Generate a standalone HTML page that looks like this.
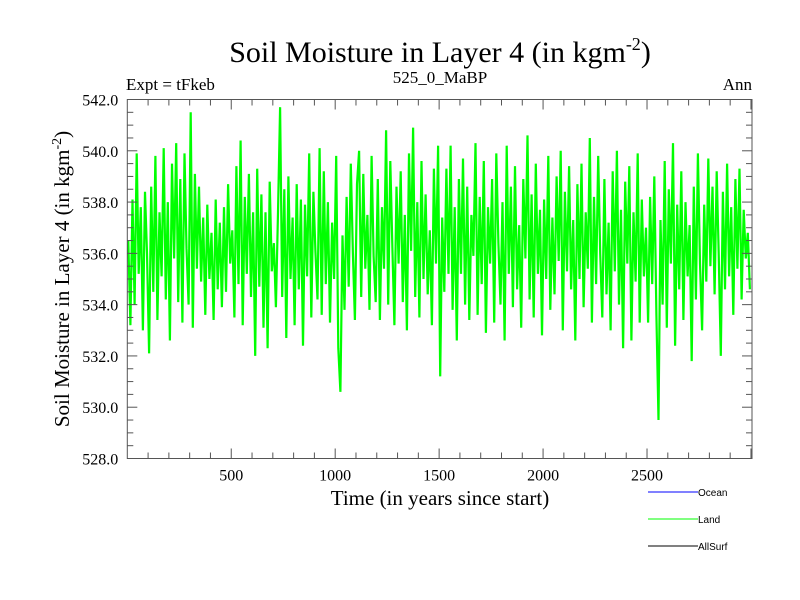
<!DOCTYPE html>
<html><head><meta charset="utf-8"><style>
body{margin:0;background:#fff;}
svg{display:block;font-family:"Liberation Serif",serif;}
</style></head><body>
<svg id="chart" width="800" height="600">
<text x="440" y="62" font-size="30" text-anchor="middle">Soil Moisture in Layer 4 (in kgm<tspan dy="-12" font-size="18">-2</tspan><tspan dy="12">)</tspan></text>
<text x="126" y="90" font-size="17">Expt = tFkeb</text>
<text x="440" y="83" font-size="17" text-anchor="middle">525_0_MaBP</text>
<text x="752" y="90" font-size="17" text-anchor="end">Ann</text>
<text transform="translate(69,279) rotate(-90)" font-size="21" text-anchor="middle">Soil Moisture in Layer 4 (in kgm<tspan dy="-8" font-size="14">-2</tspan><tspan dy="8">)</tspan></text>
<text x="440" y="505" font-size="21" text-anchor="middle">Time (in years since start)</text>
<g id="plot"></g>
<g id="axes"></g>
<g font-family="Liberation Sans, sans-serif" font-size="10">
<g><line x1="648" y1="492" x2="698" y2="492" stroke="#0000ff"/><text x="698" y="496">Ocean</text></g>
<g><line x1="648" y1="519" x2="698" y2="519" stroke="#00ff00"/><text x="698" y="523">Land</text></g>
<g><line x1="648" y1="546" x2="698" y2="546" stroke="#000"/><text x="698" y="550">AllSurf</text></g>
</g>
</svg>
<script>
const yTicks=[528,530,532,534,536,538,540,542];
const yTickLabels=["528.0","530.0","532.0","534.0","536.0","538.0","540.0","542.0"];
const xTicks=[500,1000,1500,2000,2500];
const xTickLabels=["500","1000","1500","2000","2500"];
const yearStart=5, yearStep=10;
const landValues=[
536.5,533.2,538.1,534.0,539.9,535.2,537.8,533.0,538.4,536.0,532.1,538.6,534.5,539.8,533.4,537.6,535.1,540.1,534.2,538.0,
532.6,539.5,535.8,540.3,534.1,538.9,533.3,539.9,536.2,534.0,541.5,533.1,539.1,535.4,538.6,534.9,537.4,533.6,537.9,535.0,
536.8,533.4,538.1,534.6,537.2,533.9,537.8,534.5,538.7,535.6,536.9,533.5,539.4,534.8,540.4,533.2,538.2,535.2,539.1,534.3,
537.6,532.0,539.3,534.7,538.3,533.1,537.6,532.3,538.8,535.3,536.4,533.9,537.6,541.7,534.3,538.5,532.7,539.0,535.0,537.4,
533.2,538.7,534.6,538.1,532.4,537.9,535.1,539.9,533.5,538.4,536.1,534.2,540.1,533.6,539.2,534.8,538.0,533.3,537.2,535.0,
539.8,532.3,530.6,536.7,533.8,538.2,534.7,539.5,536.0,533.4,538.7,540.0,534.3,539.1,535.4,537.5,533.8,539.8,535.9,534.1,
538.9,533.4,537.8,535.4,540.8,534.0,539.6,536.2,533.2,538.6,535.6,539.2,534.1,537.5,533.0,539.9,536.1,540.9,534.3,538.0,
533.5,539.6,535.0,538.3,534.4,536.9,533.2,539.3,535.6,540.2,531.2,537.4,534.5,539.3,535.2,540.2,533.8,537.8,532.6,538.9,
535.2,539.7,534.0,538.6,533.4,537.5,535.9,540.3,533.6,538.2,534.8,539.6,532.9,537.8,535.6,538.9,533.3,539.9,536.4,534.0,
538.0,532.6,540.2,535.2,538.6,533.9,539.4,534.6,537.1,533.1,538.9,535.8,540.6,534.2,538.3,533.5,539.5,535.2,537.7,532.8,
538.1,535.0,539.8,533.8,537.4,534.4,539.0,535.7,540.0,533.0,538.4,535.3,539.4,534.6,537.3,532.6,538.7,535.0,539.5,533.9,
537.6,535.4,540.5,533.3,538.2,534.8,539.8,536.0,533.5,538.9,534.4,537.2,533.0,539.2,535.3,540.0,534.0,537.7,532.3,538.8,
535.6,539.4,532.6,537.6,534.9,539.9,533.3,538.1,535.1,537.0,533.3,538.2,534.8,539.0,533.6,529.5,537.3,534.0,539.6,533.1,
538.5,535.6,540.3,532.4,537.9,534.6,539.2,533.4,538.0,535.1,537.1,531.8,538.6,534.2,539.9,535.6,533.0,537.9,534.9,539.7,
535.5,538.6,534.4,539.2,536.0,532.0,538.4,534.6,539.5,535.1,537.8,533.6,538.9,535.4,539.3,534.2,537.7,535.8,536.8,534.6
];
const L=127.3,R=752,T=99.5,B=458.5,xMin=0,xMax=3005,yMin=528,yMax=542;
const xs=v=>L+(v-xMin)/(xMax-xMin)*(R-L);
const ys=v=>B-(v-yMin)/(yMax-yMin)*(B-T);
const NS="http://www.w3.org/2000/svg";
const plot=document.getElementById('plot'),axes=document.getElementById('axes');
function mk(tag,attrs,parent){const e=document.createElementNS(NS,tag);for(const k in attrs)e.setAttribute(k,attrs[k]);parent.appendChild(e);return e;}
const pts=landValues.map((v,i)=>xs(yearStart+i*yearStep).toFixed(1)+","+ys(v).toFixed(1)).join(" ");
const line=mk('polyline',{points:pts,fill:'none',stroke:'#00ff00','stroke-width':2.2,'stroke-linejoin':'bevel'},plot);


const frame=mk('rect',{x:L,y:T,width:R-L,height:B-T,fill:'none',stroke:'#555','stroke-width':1},axes);


for(let v=yMin;v<=yMax+0.01;v+=0.5){const major=Math.abs(v%2)<0.01;const y=ys(v);const len=major?10:6;
 mk('line',{x1:L,y1:y,x2:L+len,y2:y,stroke:'#555'},axes);mk('line',{x1:R,y1:y,x2:R-len,y2:y,stroke:'#555'},axes);}
for(let v=100;v<xMax;v+=100){const major=v%500===0;const x=xs(v);const len=major?10:6;
 mk('line',{x1:x,y1:B,x2:x,y2:B-len,stroke:'#555'},axes);mk('line',{x1:x,y1:T,x2:x,y2:T+len,stroke:'#555'},axes);}
yTicks.forEach((v,i)=>{const t=mk('text',{x:L-9,y:ys(v)+6,'font-size':16,'text-anchor':'end'},axes);t.textContent=yTickLabels[i];

});
xTicks.forEach((v,i)=>{const t=mk('text',{x:xs(v),y:B+22,'font-size':16,'text-anchor':'middle'},axes);t.textContent=xTickLabels[i];

});
</script>
</body></html>
